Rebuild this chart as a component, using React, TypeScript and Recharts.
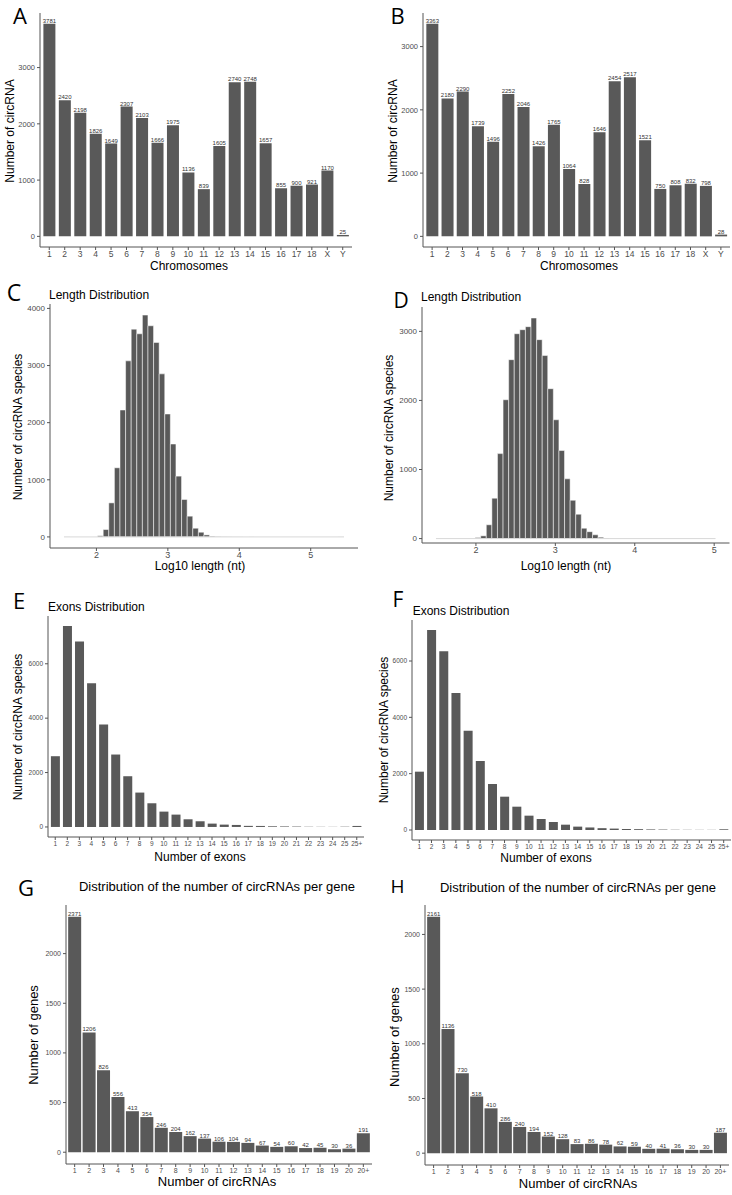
import React from "react";
import { BarChart, Bar, XAxis, YAxis, LabelList, ReferenceLine } from "recharts";

// ---- data ----
const chromosomes = ["1", "2", "3", "4", "5", "6", "7", "8", "9", "10", "11", "12", "13", "14", "15", "16", "17", "18", "X", "Y"];
const circPerChromA = [3781, 2420, 2198, 1826, 1649, 2307, 2103, 1666, 1975, 1136, 839, 1605, 2740, 2748, 1657, 855, 900, 921, 1170, 25];
const circPerChromB = [3363, 2180, 2290, 1739, 1496, 2252, 2046, 1426, 1765, 1064, 828, 1646, 2454, 2517, 1521, 750, 808, 832, 798, 28];

// log10 length histograms (50 bins each)
const lengthBinStartC = 1.546;
const lengthBinWidthC = 0.0784;
const lengthCountsC = [
  1, 0, 0, 0, 0, 0, 20, 129, 596, 1210,
  2222, 3082, 3637, 3556, 3883, 3696, 3404, 2854, 2152, 1626,
  1064, 655, 363, 152, 82, 35, 12, 6, 3, 2,
  1, 1, 0, 1, 0, 0, 0, 0, 0, 0,
  0, 0, 0, 0, 0, 0, 0, 0, 0, 1,
];
const lengthBinStartD = 1.497;
const lengthBinWidthD = 0.0704;
const lengthCountsD = [
  1, 0, 0, 0, 0, 0, 0, 15, 40, 200,
  585, 1230, 2010, 2590, 2966, 3024, 3068, 3193, 2880, 2650,
  2170, 1720, 1275, 865, 555, 353, 150, 100, 55, 20,
  8, 3, 2, 1, 1, 0, 0, 0, 0, 0,
  0, 0, 0, 0, 0, 0, 0, 0, 0, 1,
];
const lengthTicks = [2, 3, 4, 5];

const exonCats = ["1", "2", "3", "4", "5", "6", "7", "8", "9", "10", "11", "12", "13", "14", "15", "16", "17", "18", "19", "20", "21", "22", "23", "24", "25", "25+"];
const exonCountsE = [2601, 7387, 6822, 5288, 3767, 2663, 1865, 1264, 871, 564, 454, 282, 209, 123, 86, 74, 40, 37, 25, 20, 15, 8, 6, 5, 10, 37];
const exonCountsF = [2071, 7101, 6343, 4864, 3527, 2450, 1633, 1183, 828, 509, 390, 284, 189, 120, 90, 65, 50, 35, 30, 20, 15, 8, 6, 5, 5, 25];

const geneCats = ["1", "2", "3", "4", "5", "6", "7", "8", "9", "10", "11", "12", "13", "14", "15", "16", "17", "18", "19", "20", "20+"];
const genesG = [2371, 1206, 826, 556, 413, 354, 246, 204, 162, 137, 106, 104, 94, 67, 54, 60, 42, 45, 30, 36, 191];
const genesH = [2161, 1136, 730, 518, 410, 286, 240, 194, 152, 128, 83, 86, 78, 62, 59, 40, 41, 36, 30, 30, 187];

const ticks3000 = [0, 1000, 2000, 3000];
const ticks4000 = [0, 1000, 2000, 3000, 4000];
const ticks6000 = [0, 2000, 4000, 6000];
const ticks2000 = [0, 500, 1000, 1500, 2000];

// ---- styling ----
const BAR = "#595959";
const AXIS = "#555555";
const TICK = "#4d4d4d";
const FONT = "'Liberation Sans', Arial, sans-serif";
const PAD = { l: 40, t: 12, r: 6, b: 24 };
const YW = 36;

type Rect = { x0: number; y0: number; x1: number; y1: number };

function CatPanel(props: {
  rect: Rect; cats: string[]; values: number[]; yTicks: number[];
  gap: string; yFont: number; xFont: number; labelFont: number;
}) {
  const { rect, cats, values, yTicks, gap, yFont, xFont, labelFont } = props;
  const data = cats.map((c, i) => ({ cat: c, n: values[i] }));
  const max = Math.max(...values);
  const w = rect.x1 - rect.x0;
  const h = rect.y1 - rect.y0;
  const step = w / (cats.length + 0.2);
  return (
    <div style={{ position: "absolute", left: rect.x0 - PAD.l, top: rect.y0 - PAD.t }}>
      <BarChart
        width={w + PAD.l + PAD.r}
        height={h + PAD.t + PAD.b}
        data={data}
        margin={{ top: PAD.t, right: PAD.r, bottom: 0, left: PAD.l - YW }}
        barCategoryGap={gap}
      >
        <XAxis
          dataKey="cat"
          interval={0}
          height={PAD.b}
          padding={{ left: step * 0.1, right: step * 0.1 }}
          tickSize={3}
          tickMargin={1}
          stroke={AXIS}
          tick={{ fontSize: xFont, fill: TICK }}
        />
        <YAxis
          width={YW}
          type="number"
          domain={[-0.05 * max, 1.05 * max]}
          allowDataOverflow
          ticks={yTicks}
          interval={0}
          tickSize={3}
          tickMargin={2}
          stroke={AXIS}
          tick={{ fontSize: yFont, fill: TICK }}
        />
        <Bar dataKey="n" fill={BAR} isAnimationActive={false}>
          {labelFont > 0 && (
            <LabelList dataKey="n" position="top" offset={1} fill="#333" fontSize={labelFont} />
          )}
        </Bar>
      </BarChart>
    </div>
  );
}

function HistPanel(props: {
  rect: Rect; start: number; binWidth: number; counts: number[];
  xTicks: number[]; yTicks: number[]; lowExp?: number;
}) {
  const { rect, start, binWidth, counts, xTicks, yTicks, lowExp = 0.05 } = props;
  const data = counts.map((n, i) => ({ x: start + binWidth * (i + 0.5), n }));
  const end = start + binWidth * counts.length;
  const span = end - start;
  const lo = start - 0.05 * span;
  const hi = end + 0.05 * span;
  const max = Math.max(...counts);
  const w = rect.x1 - rect.x0;
  const h = rect.y1 - rect.y0;
  const binPx = (binWidth * w) / (hi - lo);
  return (
    <div style={{ position: "absolute", left: rect.x0 - PAD.l, top: rect.y0 - PAD.t }}>
      <BarChart
        width={w + PAD.l + PAD.r}
        height={h + PAD.t + PAD.b}
        data={data}
        margin={{ top: PAD.t, right: PAD.r, bottom: 0, left: PAD.l - YW }}
      >
        <XAxis
          type="number"
          dataKey="x"
          domain={[lo, hi]}
          allowDataOverflow
          ticks={xTicks}
          interval={0}
          height={PAD.b}
          tickSize={3}
          tickMargin={1}
          stroke={AXIS}
          tick={{ fontSize: 9, fill: TICK }}
        />
        <YAxis
          width={YW}
          type="number"
          domain={[-lowExp * max, 1.05 * max]}
          allowDataOverflow
          ticks={yTicks}
          interval={0}
          tickSize={3}
          tickMargin={2}
          stroke={AXIS}
          tick={{ fontSize: 8, fill: TICK }}
        />
        <ReferenceLine segment={[{ x: start, y: 0 }, { x: end, y: 0 }]} stroke="#d8d8d8" strokeWidth={1} />
        <Bar dataKey="n" fill={BAR} stroke="#ffffff" strokeWidth={0.5} barSize={binPx - 0.05} isAnimationActive={false} />
      </BarChart>
    </div>
  );
}

function T(props: { x: number; y: number; s: number; t: string; anchor?: string; rot?: boolean; font?: string }) {
  const { x, y, s, t, anchor = "middle", rot, font } = props;
  return (
    <text
      x={x}
      y={y}
      fontSize={s}
      textAnchor={anchor as any}
      dominantBaseline="central"
      fontFamily={font || FONT}
      fill="#000"
      transform={rot ? `rotate(-90 ${x} ${y})` : undefined}
    >
      {t}
    </text>
  );
}

const LETTER = "'Open Sans', 'DejaVu Sans', sans-serif";

export default function App() {
  return (
    <div style={{ position: "absolute", left: 0, top: 0, width: 732, height: 1195, background: "#fff", fontFamily: FONT, overflow: "hidden" }}>
      <CatPanel rect={{ x0: 40, y0: 13, x1: 352, y1: 247 }} cats={chromosomes} values={circPerChromA} yTicks={ticks3000} gap="12%" yFont={7.5} xFont={8.5} labelFont={6} />
      <CatPanel rect={{ x0: 423, y0: 13, x1: 730, y1: 247 }} cats={chromosomes} values={circPerChromB} yTicks={ticks3000} gap="12%" yFont={7.5} xFont={8.5} labelFont={6} />
      <HistPanel rect={{ x0: 50, y0: 304, x1: 358, y1: 548 }} start={lengthBinStartC} binWidth={lengthBinWidthC} counts={lengthCountsC} xTicks={lengthTicks} yTicks={ticks4000} />
      <HistPanel rect={{ x0: 422, y0: 307, x1: 729.5, y1: 543 }} start={lengthBinStartD} binWidth={lengthBinWidthD} counts={lengthCountsD} xTicks={lengthTicks} yTicks={ticks3000} lowExp={0.02} />
      <CatPanel rect={{ x0: 48, y0: 616, x1: 364, y1: 837 }} cats={exonCats} values={exonCountsE} yTicks={ticks6000} gap="14%" yFont={6.5} xFont={6.5} labelFont={0} />
      <CatPanel rect={{ x0: 412, y0: 620, x1: 731, y1: 840 }} cats={exonCats} values={exonCountsF} yTicks={ticks6000} gap="14%" yFont={6.5} xFont={6.5} labelFont={0} />
      <CatPanel rect={{ x0: 66, y0: 905, x1: 372, y1: 1164 }} cats={geneCats} values={genesG} yTicks={ticks2000} gap="5%" yFont={7} xFont={7} labelFont={6} />
      <CatPanel rect={{ x0: 425, y0: 905, x1: 729, y1: 1165 }} cats={geneCats} values={genesH} yTicks={ticks2000} gap="5%" yFont={7} xFont={7} labelFont={6} />

      <svg width={732} height={1195} style={{ position: "absolute", left: 0, top: 0, pointerEvents: "none" }}>
        {/* panel letters */}
        <T x={20} y={15} s={22} t="A" font={LETTER} />
        <T x={397.5} y={15} s={22} t="B" font={LETTER} />
        <T x={14} y={291.5} s={23} t="C" font={LETTER} />
        <T x={401} y={300} s={21} t="D" font={LETTER} />
        <T x={19} y={600} s={22} t="E" font={LETTER} />
        <T x={398} y={598.5} s={21} t="F" font={LETTER} />
        <T x={26} y={886.5} s={22} t="G" font={LETTER} />
        <T x={397.5} y={886} s={19} t="H" font={LETTER} />

        {/* titles */}
        <T x={49} y={295} s={12} t="Length Distribution" anchor="start" />
        <T x={421} y={296.7} s={12} t="Length Distribution" anchor="start" />
        <T x={48} y={606.7} s={12} t="Exons Distribution" anchor="start" />
        <T x={412.7} y={611} s={12} t="Exons Distribution" anchor="start" />
        <T x={217} y={886} s={13} t="Distribution of the number of circRNAs per gene" />
        <T x={578} y={887} s={13} t="Distribution of the number of circRNAs per gene" />

        {/* axis titles */}
        <T x={189} y={266} s={12} t="Chromosomes" />
        <T x={10} y={131} s={12} t="Number of circRNA" rot />
        <T x={579} y={266} s={12} t="Chromosomes" />
        <T x={392.7} y={131} s={12} t="Number of circRNA" rot />

        <T x={200} y={566} s={12} t="Log10 length (nt)" />
        <T x={18} y={427} s={12} t="Number of circRNA species" rot />
        <T x={566} y={566} s={12} t="Log10 length (nt)" />
        <T x={389.3} y={428} s={12} t="Number of circRNA species" rot />

        <T x={200} y={857} s={12} t="Number of exons" />
        <T x={18} y={727} s={12} t="Number of circRNA species" rot />
        <T x={546} y={858} s={12} t="Number of exons" />
        <T x={384} y={730} s={12} t="Number of circRNA species" rot />

        <T x={217} y={1181.7} s={13} t="Number of circRNAs" />
        <T x={33} y={1035} s={13} t="Number of genes" rot />
        <T x={578} y={1183} s={13} t="Number of circRNAs" />
        <T x={394} y={1037} s={13} t="Number of genes" rot />
      </svg>
    </div>
  );
}
